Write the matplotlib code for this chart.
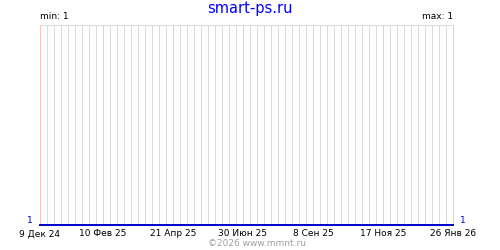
import numpy as np
import pandas as pd
import matplotlib
matplotlib.use('Agg')
import matplotlib.pyplot as plt
import matplotlib.dates as mdates

# data
dates = pd.to_datetime(['2024-12-09', '2026-01-26'])
values = [1, 1]
tick_dates = pd.to_datetime(['2024-12-09', '2025-02-10', '2025-04-21', '2025-06-30',
                             '2025-09-08', '2025-11-17', '2026-01-26'])
tick_labels = ['9 Дек 24', '10 Фев 25', '21 Апр 25', '30 Июн 25',
               '8 Сен 25', '17 Ноя 25', '26 Янв 26']
title = 'smart-ps.ru'
v_min = min(values)
v_max = max(values)

fig = plt.figure(figsize=(5, 2.5), dpi=100)
ax = fig.add_axes([40 / 500, 25 / 250, 413 / 500, 200 / 250])

start = mdates.date2num(dates[0])
end = mdates.date2num(dates[-1])
ax.set_xlim(start, end)
ax.set_ylim(v_min, v_min + 1)

# weekly grid lines, pink every 10 weeks
px = 72 / 100
weeks = np.arange(start, end + 1, 7)
reds = mdates.date2num(tick_dates)
grey = [d for d in weeks if not np.any(np.isclose(d, reds))]
ax.vlines(grey, v_min, v_min + 1, colors='#dcdcdc', lw=px, zorder=1, clip_on=False)
ax.vlines(reds, v_min, v_min + 1, colors='#ffc0c0', lw=px, zorder=2, clip_on=False)
ax.hlines(v_min + 1, start, end, colors='#dcdcdc', lw=px, zorder=1, clip_on=False)

ax.plot(dates, values, color='#0000cc', lw=1.4, zorder=3, clip_on=False)

for s in ax.spines.values():
    s.set_visible(False)
ax.set_xticks(reds)
ax.set_xticklabels(tick_labels, fontsize=6.5)
ax.tick_params(axis='x', length=0, pad=3)
ax.set_yticks([])

fig.text(0.5, 0.966, title, ha='center', va='center', color='#0000ff', fontsize=10.5)
ax.text(0, 1.02, 'min: %d' % v_min, transform=ax.transAxes, ha='left', va='bottom', fontsize=6.5)
ax.text(1, 1.02, 'max: %d' % v_max, transform=ax.transAxes, ha='right', va='bottom', fontsize=6.5)
ax.annotate(str(values[0]), (dates[0], values[0]), xytext=(-7, 0), textcoords='offset points',
            ha='center', va='bottom', color='#0000cc', fontsize=6.5)
ax.annotate(str(values[-1]), (dates[-1], values[-1]), xytext=(7, 0), textcoords='offset points',
            ha='center', va='bottom', color='#0000cc', fontsize=6.5)
fig.text(0.513, 0.028, '©2026 www.mmnt.ru', ha='center', va='center', color='#a0a0a0', fontsize=6.5)

fig.savefig('out.png', dpi=100)
